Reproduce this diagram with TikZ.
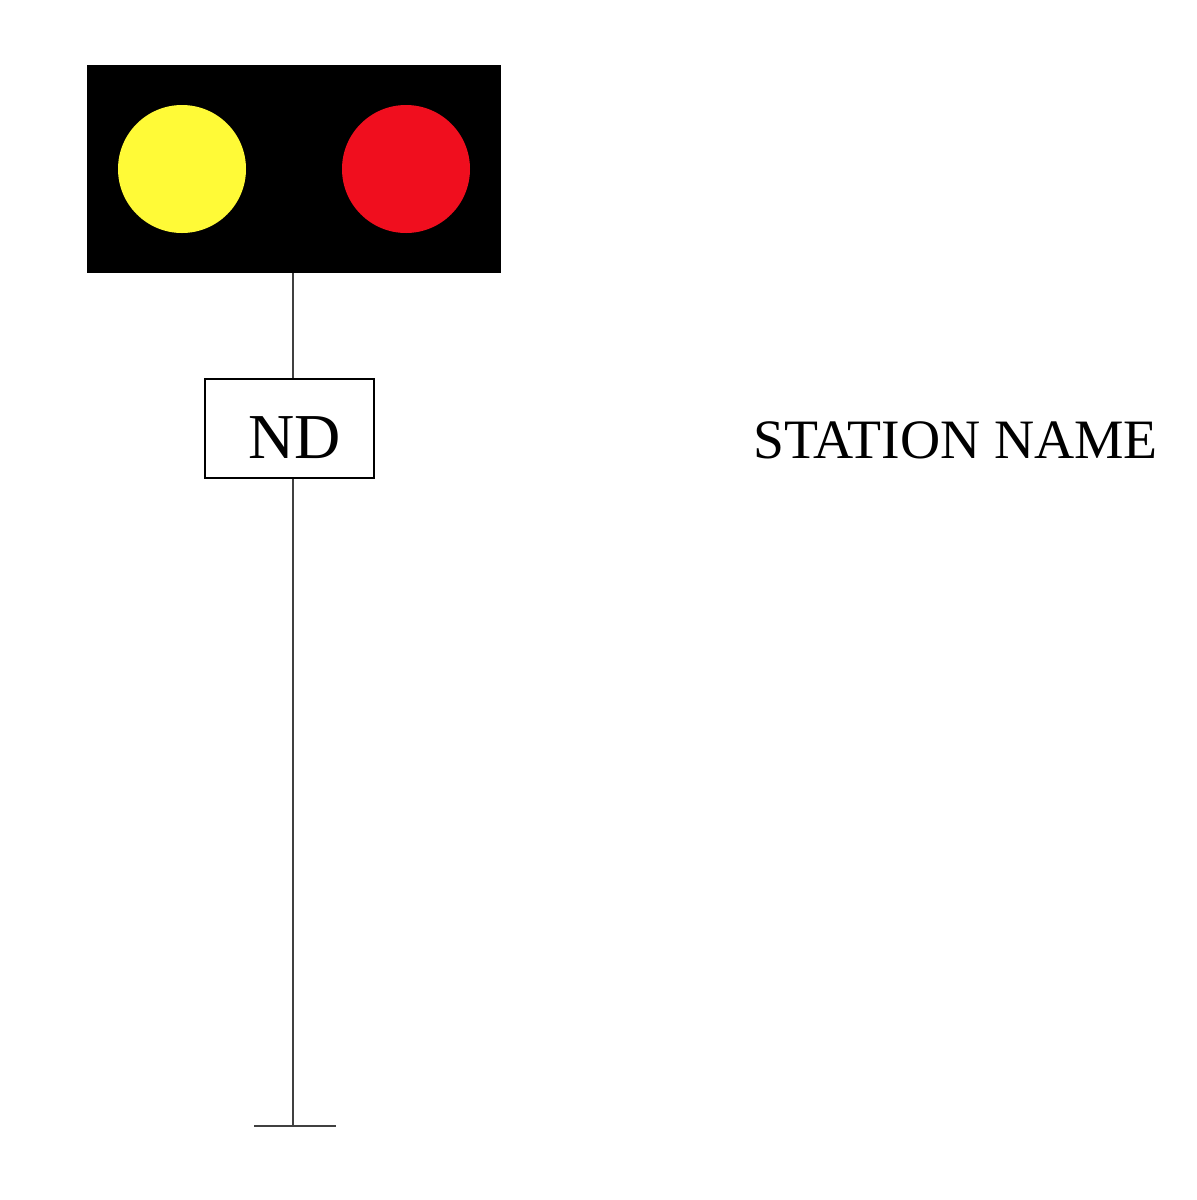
\documentclass[tikz,border=0pt]{standalone}
\usepackage{fontspec}
\setmainfont{Liberation Serif}
\definecolor{lampyellow}{RGB}{255,250,55}
\definecolor{lampred}{RGB}{240,14,30}
\begin{document}
\begin{tikzpicture}
[x=0.5pt,y=-0.5pt,%
  headdecorate/.style={shape=rectangle,fill=black,inner sep=0pt,
    minimum width=207pt,minimum height=104pt},%
  lampdecorate/.style={shape=circle,inner sep=0pt,minimum size=64pt},%
  platedecorate/.style={shape=rectangle,draw,line width=0.8pt,fill=white,
    inner sep=0pt,minimum width=84.5pt,minimum height=49.5pt,
    text height=29.5pt,text depth=0pt,
    font=\fontsize{32}{36}\selectfont},%
  linedecorate/.style={-,line width=1.3pt,draw=black!75}]
\useasboundingbox (0,0) rectangle (1196,1200);
%% signal head and lamps
\node (head) at (294,169) [headdecorate] {};
\foreach \lampname/\x/\col in {yellow/182/lampyellow, red/406/lampred}
{
  \node (\lampname) at (\x,169) [lampdecorate,fill=\col] {};
}
%% plate and station name
\node (nd) at (289.5,428.5) [platedecorate] {\hspace*{5.5pt}ND};
\node (station) at (955.5,440) [font=\fontsize{27.8}{32}\selectfont] {STATION NAME};
\coordinate (base) at (293,1126);
\coordinate (baseW) at (254,1126);
\coordinate (baseE) at (336,1126);
%% pole and foot
\draw[linedecorate] (head.south -| base) -- (nd.north -| base);
\draw[linedecorate] (nd.south -| base) -- (base);
\draw[linedecorate] (baseW) -- (baseE);
\end{tikzpicture}
\end{document}
